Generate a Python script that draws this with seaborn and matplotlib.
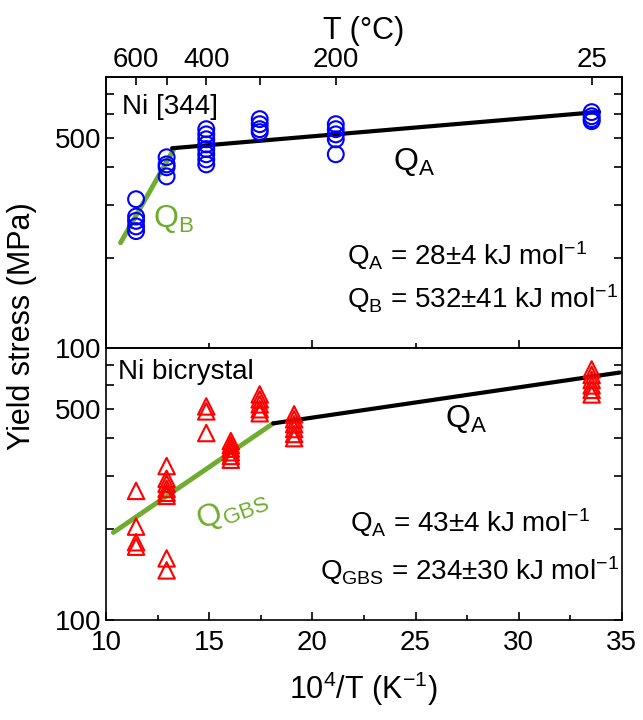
import numpy as np
import pandas as pd
import seaborn as sns
import matplotlib.pyplot as plt
from matplotlib import font_manager
from matplotlib.ticker import FixedLocator, NullFormatter, FixedFormatter

# test temperatures (deg C) and yield stress (MPa)
single_T = [600, 500, 400, 300, 200, 25]
single_stress = [
    [313, 274, 265, 254, 245],
    [432, 409, 400, 373],
    [536, 515, 496, 477, 460, 442, 425, 409],
    [579, 557, 536, 524],
    [557, 536, 515, 496, 442],
    [611, 592, 579, 570],
]

bi_T = [600, 500, 400, 350, 300, 250, 25]
bi_stress = [
    [268, 204, 181, 175],
    [324, 294, 283, 272, 264, 258, 160, 146],
    [511, 492, 417],
    [392, 380, 370, 360, 350, 340],
    [560, 539, 519, 500, 485],
    [481, 463, 446, 430, 414, 401],
    [678, 650, 625, 600, 580, 560],
]

# fitted lines (10^4/T, MPa)
single_QA_x = [13.2, 33.9]
single_QA_y = [463, 612]
single_QB_x = [10.7, 13.3]
single_QB_y = [224, 462]
bi_QA_x = [18.1, 34.9]
bi_QA_y = [449, 662]
bi_QGBS_x = [10.35, 18.1]
bi_QGBS_y = [195, 449]

top_T_ticks = [600, 500, 400, 300, 200, 25]
top_T_labels = ['600', '', '400', '', '200', '25']


def to_frame(temps, stresses):
    rows = []
    for t, vals in zip(temps, stresses):
        for v in vals:
            rows.append({'x': 1e4 / (t + 273.15), 'stress': v})
    return pd.DataFrame(rows)


df_single = to_frame(single_T, single_stress)
df_bi = to_frame(bi_T, bi_stress)

sns.set_style('ticks')
names = {f.name for f in font_manager.fontManager.ttflist}
fam = 'Liberation Sans Narrow' if 'Liberation Sans Narrow' in names else 'Liberation Sans'
plt.rcParams['font.family'] = [fam, 'DejaVu Sans']
plt.rcParams['mathtext.fontset'] = 'custom'
plt.rcParams['mathtext.rm'] = fam
plt.rcParams['mathtext.it'] = fam
plt.rcParams['mathtext.default'] = 'regular'
plt.rcParams['axes.linewidth'] = 1.2
for k in ['text.color', 'axes.labelcolor', 'xtick.color', 'ytick.color', 'axes.edgecolor']:
    plt.rcParams[k] = 'black'

blue = '#0000ff'
red = '#ff0000'
green = '#6fac2f'

fig = plt.figure(figsize=(6.43, 7.2), dpi=100)
ax1 = fig.add_axes([0.165, 0.517, 0.802, 0.376])
ax2 = fig.add_axes([0.165, 0.139, 0.802, 0.378])

# top panel: Ni [344]
sns.lineplot(x=single_QB_x, y=single_QB_y, ax=ax1, color=green, lw=3.5)
sns.lineplot(x=single_QA_x, y=single_QA_y, ax=ax1, color='black', lw=3)
sns.scatterplot(data=df_single, x='x', y='stress', ax=ax1, marker='o', s=130,
                facecolors='none', edgecolor=blue, linewidth=1.5, zorder=3)

# bottom panel: bicrystal
sns.lineplot(x=bi_QGBS_x, y=bi_QGBS_y, ax=ax2, color=green, lw=3.5)
sns.lineplot(x=bi_QA_x, y=bi_QA_y, ax=ax2, color='black', lw=3)
sns.scatterplot(data=df_bi, x='x', y='stress', ax=ax2, marker='^', s=140,
                facecolors='none', edgecolor=red, linewidth=1.5, zorder=3)

for ax in (ax1, ax2):
    ax.set_yscale('log')
    ax.set_ylim(100, 800)
    ax.set_xlim(10, 35)
    ax.yaxis.set_major_locator(FixedLocator([100, 500]))
    ax.yaxis.set_major_formatter(FixedFormatter(['100', '500']))
    ax.yaxis.set_minor_locator(FixedLocator([200, 300, 400, 600, 700]))
    ax.yaxis.set_minor_formatter(NullFormatter())
    ax.tick_params(axis='y', which='both', direction='in', left=True, right=True,
                   length=6, width=1.2, labelsize=20)
    ax.set_xlabel('')
    ax.set_ylabel('')

ax1.set_xticks([10, 20, 30])
ax1.set_xticks([15, 25, 35], minor=True)
ax1.tick_params(axis='x', which='both', direction='in', labelbottom=False, width=1.2)
ax1.tick_params(axis='x', which='major', length=6)
ax1.tick_params(axis='x', which='minor', length=3.5)

ax2.set_xticks([10, 15, 20, 25, 30, 35])
ax2.set_xticks([12.5, 17.5, 22.5, 27.5, 32.5], minor=True)
ax2.tick_params(axis='x', which='both', direction='in', top=False, width=1.2, labelsize=20)
ax2.tick_params(axis='x', which='major', length=6, pad=7)
ax2.tick_params(axis='x', which='minor', length=3.5)
ax2.set_xlabel('10$^4$/T (K$^{-1}$)', fontsize=22, labelpad=10)

axT = ax1.twiny()
axT.set_xlim(10, 35)
axT.set_xticks([1e4 / (t + 273.15) for t in top_T_ticks])
axT.set_xticklabels(top_T_labels)
axT.tick_params(axis='x', direction='in', length=6, width=1.2, labelsize=20, pad=3)
axT.set_xlabel('T (°C)', fontsize=22, labelpad=6)

fig.text(0.034, 0.547, 'Yield stress (MPa)', rotation=90, ha='center', va='center',
         fontsize=22)

# labels in the top panel
ax1.text(0.031, 0.889, 'Ni [344]', transform=ax1.transAxes, fontsize=20, va='center')
ax1.text(0.556, 0.657, 'Q$_A$', transform=ax1.transAxes, fontsize=23, va='baseline')
ax1.text(0.091, 0.446, 'Q$_B$', transform=ax1.transAxes, fontsize=23, va='baseline',
         color=green)
ax1.text(0.467, 0.306, 'Q$_A$ = 28±4 kJ mol$^{-1}$', transform=ax1.transAxes,
         fontsize=20, va='baseline')
ax1.text(0.467, 0.148, 'Q$_B$ = 532±41 kJ mol$^{-1}$', transform=ax1.transAxes,
         fontsize=20, va='baseline')

# labels in the bottom panel
ax2.text(0.023, 0.912, 'Ni bicrystal', transform=ax2.transAxes, fontsize=20, va='center')
ax2.text(0.657, 0.71, 'Q$_A$', transform=ax2.transAxes, fontsize=23, va='baseline')
ax2.text(0.245, 0.405, 'Q$_{GBS}$', transform=ax2.transAxes, fontsize=23, va='center',
         ha='center', rotation=20, color=green)
ax2.text(0.705, 0.324, 'Q$_A$ = 43±4 kJ mol$^{-1}$', transform=ax2.transAxes,
         fontsize=20, va='baseline', ha='center')
ax2.text(0.705, 0.147, 'Q$_{GBS}$ = 234±30 kJ mol$^{-1}$', transform=ax2.transAxes,
         fontsize=20, va='baseline', ha='center')

fig.savefig('out.png', dpi=100)
